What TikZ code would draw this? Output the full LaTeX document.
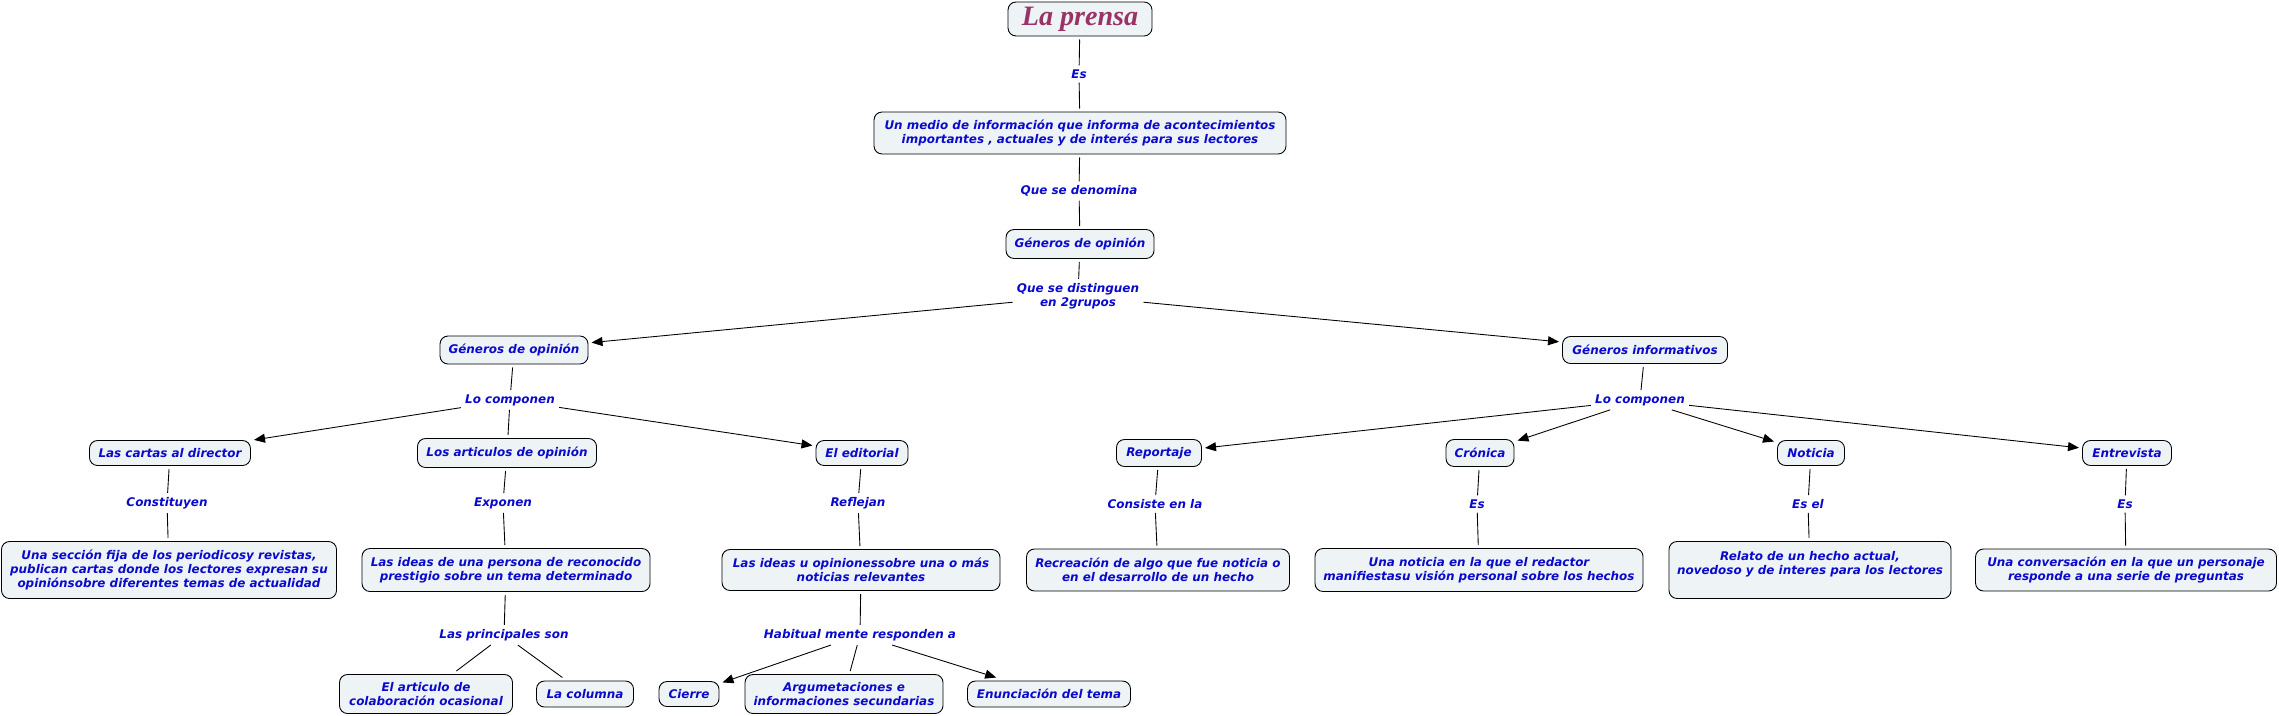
\documentclass[tikz,border=0pt]{standalone}
\usepackage{fontspec}
\setmainfont{DejaVu Sans}
\newfontfamily\titlefont{Liberation Serif}
\usetikzlibrary{arrows.meta, positioning}

\definecolor{conceptfill}{HTML}{EEF3F6}
\definecolor{linkblue}{HTML}{0A0ACC}
\definecolor{titlered}{HTML}{993366}

\begin{document}
\begin{tikzpicture}[
    font=\fontsize{6.8}{8.1}\selectfont\bfseries\itshape,
    concept/.style={rectangle, rounded corners=0.16cm, draw, line width=0.5pt, fill=conceptfill, text=linkblue, align=center, inner sep=1pt, minimum height=0.5cm, outer sep=0.07cm},
    linkword/.style={text=linkblue, align=center, inner sep=1pt, outer sep=0.05cm},
    link/.style={line width=0.5pt},
    arrow/.style={-{Triangle[length=0.22cm, width=0.18cm]}, line width=0.5pt}
]
\useasboundingbox (0,0) rectangle (45.58,-14.32);

% main chain
\node[concept, minimum width=2.88cm, minimum height=0.68cm, text=titlered, font=\titlefont\fontsize{16}{16}\selectfont\bfseries\itshape] (prensa) at (21.6,-0.38) {La prensa};
\node[concept, minimum width=8.24cm, minimum height=0.84cm] (medio) at (21.6,-2.66) {Un medio de información que informa de acontecimientos\\importantes , actuales y de interés para sus lectores};
\node[concept, minimum width=2.96cm, minimum height=0.58cm] (generos) at (21.6,-4.88) {Géneros de opinión};

\node[linkword] (es) at (21.58,-1.48) {Es};
\node[linkword] (denomina) at (21.58,-3.82) {Que se denomina};
\node[linkword] (distinguen) at (21.56,-5.92) {Que se distinguen\\en 2grupos};

% two groups
\node[concept, minimum width=2.96cm, minimum height=0.56cm] (opinion) at (10.28,-7.0) {Géneros de opinión};
\node[concept, minimum width=3.3cm, minimum height=0.54cm] (informativos) at (32.9,-7.0) {Géneros informativos};
\node[linkword] (componenop) at (10.2,-8.0) {Lo componen};
\node[linkword] (componeninf) at (32.8,-8.0) {Lo componen};

% opinion side
\node[concept, minimum width=3.22cm] (cartas) at (3.4,-9.06) {Las cartas al director};
\node[concept, minimum width=3.58cm, minimum height=0.58cm] (articulos) at (10.14,-9.06) {Los articulos de opinión};
\node[concept, minimum width=1.84cm] (editorial) at (17.24,-9.06) {El editorial};

\node[linkword] (constituyen) at (3.34,-10.06) {Constituyen};
\node[linkword] (exponen) at (10.06,-10.06) {Exponen};
\node[linkword] (reflejan) at (17.16,-10.06) {Reflejan};

\node[concept, minimum width=6.7cm, minimum height=1.14cm] (seccion) at (3.38,-11.4) {Una sección fija de los periodicosy revistas,\\publican cartas donde los lectores expresan su\\opiniónsobre diferentes temas de actualidad};
\node[concept, minimum width=5.76cm, minimum height=0.86cm] (ideaspersona) at (10.12,-11.4) {Las ideas de una persona de reconocido\\prestigio sobre un tema determinado};
\node[concept, minimum width=5.56cm, minimum height=0.82cm] (ideasopinion) at (17.22,-11.4) {Las ideas u opinionessobre una o más\\noticias relevantes};

\node[linkword] (principales) at (10.08,-12.7) {Las principales son};
\node[linkword] (habitual) at (17.2,-12.7) {Habitual mente responden a};

\node[concept, minimum width=3.46cm, minimum height=0.78cm] (colaboracion) at (8.52,-13.88) {El articulo de\\colaboración ocasional};
\node[concept, minimum width=1.94cm, minimum height=0.52cm] (columna) at (11.7,-13.88) {La columna};
\node[concept, minimum width=1.2cm] (cierre) at (13.78,-13.88) {Cierre};
\node[concept, minimum width=3.96cm, minimum height=0.78cm] (argumentaciones) at (16.88,-13.88) {Argumetaciones e\\informaciones secundarias};
\node[concept, minimum width=3.26cm, minimum height=0.52cm] (enunciacion) at (20.98,-13.88) {Enunciación del tema};

% informativos side
\node[concept, minimum width=1.7cm, minimum height=0.54cm] (reportaje) at (23.18,-9.06) {Reportaje};
\node[concept, minimum width=1.36cm, minimum height=0.54cm] (cronica) at (29.6,-9.06) {Crónica};
\node[concept, minimum width=1.34cm] (noticia) at (36.22,-9.06) {Noticia};
\node[concept, minimum width=1.78cm] (entrevista) at (42.54,-9.06) {Entrevista};

\node[linkword] (consiste) at (23.1,-10.08) {Consiste en la};
\node[linkword] (escronica) at (29.54,-10.08) {Es};
\node[linkword] (esel) at (36.16,-10.08) {Es el};
\node[linkword] (esentrevista) at (42.5,-10.08) {Es};

\node[concept, minimum width=5.26cm, minimum height=0.84cm] (recreacion) at (23.16,-11.4) {Recreación de algo que fue noticia o\\en el desarrollo de un hecho};
\node[concept, minimum width=6.56cm, minimum height=0.86cm] (unanoticia) at (29.58,-11.4) {Una noticia en la que el redactor\\manifiestasu visión personal sobre los hechos};
\node[concept, minimum width=5.64cm, minimum height=1.14cm] (relato) at (36.2,-11.4) {Relato de un hecho actual,\\novedoso y de interes para los lectores\\~};
\node[concept, minimum width=6.02cm, minimum height=0.84cm] (conversacion) at (42.52,-11.4) {Una conversación en la que un personaje\\responde a una serie de preguntas};

\draw[link] (prensa) -- (es);
\draw[link] (es) -- (medio);
\draw[link] (medio) -- (denomina);
\draw[link] (denomina) -- (generos);
\draw[link] (generos) -- (distinguen);
\draw[arrow] (distinguen) -- (opinion);
\draw[arrow] (distinguen) -- (informativos);

\draw[link] (opinion) -- (componenop);
\draw[arrow] (componenop) -- (cartas);
\draw[link] (componenop) -- (articulos);
\draw[arrow] (componenop) -- (editorial);
\draw[link] (cartas) -- (constituyen);
\draw[link] (constituyen) -- (seccion);
\draw[link] (articulos) -- (exponen);
\draw[link] (exponen) -- (ideaspersona);
\draw[link] (editorial) -- (reflejan);
\draw[link] (reflejan) -- (ideasopinion);
\draw[link] (ideaspersona) -- (principales);
\draw[link] (principales) -- (colaboracion);
\draw[link] (principales) -- (columna);
\draw[link] (ideasopinion) -- (habitual);
\draw[arrow] (habitual) -- (cierre);
\draw[link] (habitual) -- (argumentaciones);
\draw[arrow] (habitual) -- (enunciacion);

\draw[link] (informativos) -- (componeninf);
\draw[arrow] (componeninf) -- (reportaje);
\draw[arrow] (componeninf) -- (cronica);
\draw[arrow] (componeninf) -- (noticia);
\draw[arrow] (componeninf) -- (entrevista);
\draw[link] (reportaje) -- (consiste);
\draw[link] (consiste) -- (recreacion);
\draw[link] (cronica) -- (escronica);
\draw[link] (escronica) -- (unanoticia);
\draw[link] (noticia) -- (esel);
\draw[link] (esel) -- (relato);
\draw[link] (entrevista) -- (esentrevista);
\draw[link] (esentrevista) -- (conversacion);
\end{tikzpicture}
\end{document}
